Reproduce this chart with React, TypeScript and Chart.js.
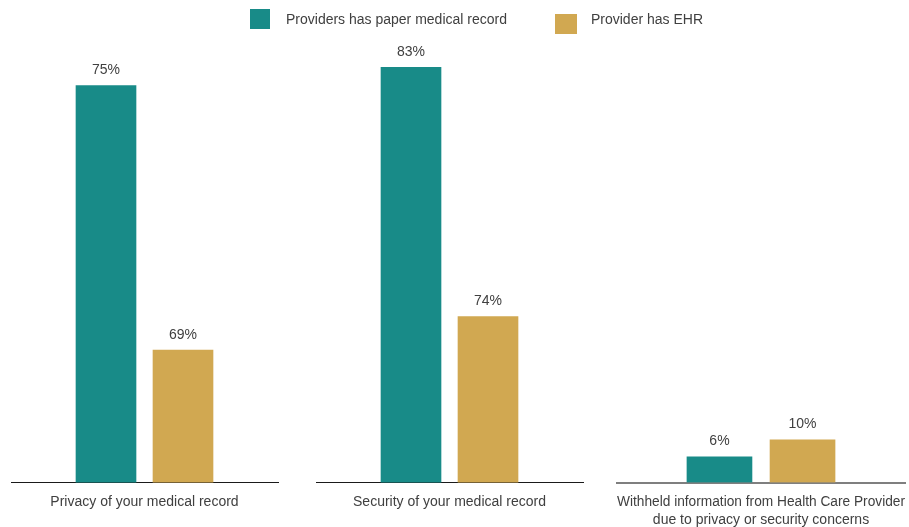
import React, { useEffect, useRef } from 'react';
import { Chart, registerables } from 'chart.js';

Chart.register(...registerables);

// ---- data ----
const categories: (string | string[])[] = [
  'Privacy of your medical record',
  'Security of your medical record',
  ['Withheld information from Health Care Provider', 'due to privacy or security concerns'],
];
const seriesNames = ['Providers has paper medical record', 'Provider has EHR'];
const paperValues = [75, 83, 6];
const ehrValues = [69, 74, 10];
// each panel has its own value axis range
const axisMin = [66, 68, 0];
const axisMax = [76.1, 84.1, 104.5];

const TEAL = '#188b88';
const GOLD = '#d1a851';
const TEXT = '#404040';
const FONT = '"Liberation Sans", Arial, sans-serif';

function makeLegendSwatch(color: string, w: number, h: number, yOff: number): HTMLCanvasElement {
  const c = document.createElement('canvas');
  c.width = 66;
  c.height = 40;
  const g = c.getContext('2d')!;
  g.fillStyle = color;
  g.fillRect(37, yOff, w, h);
  return c;
}

const valueLabels = {
  id: 'valueLabels',
  afterDatasetsDraw(chart: any) {
    const ctx = chart.ctx;
    ctx.save();
    ctx.font = `14px ${FONT}`;
    ctx.fillStyle = TEXT;
    ctx.textAlign = 'center';
    ctx.textBaseline = 'middle';
    chart.data.datasets.forEach((_ds: any, i: number) => {
      const meta = chart.getDatasetMeta(i);
      meta.data.forEach((el: any, j: number) => {
        const v = meta.controller.getParsed(j).y;
        ctx.fillText(`${v}%`, el.x, el.y - 15.5);
      });
    });
    ctx.restore();
  },
};

export default function App() {
  const ref = useRef<HTMLCanvasElement>(null);

  useEffect(() => {
    if (!ref.current) return;
    Chart.defaults.font.family = FONT;
    const swatches = [makeLegendSwatch(TEAL, 20, 20, 9), makeLegendSwatch(GOLD, 22, 20, 14)];
    const colors = [TEAL, GOLD];
    const panelWeights = [267, 267, 288];
    const gapWeights = [38, 34];
    const barWidths = [60, 60, 65];
    // bar slots within a panel (series 0 at slot 1, series 1 at slot 2)
    const slotHalfRange = 1.7338;

    const datasets: any[] = [];
    for (let p = 0; p < 3; p++) {
      [paperValues, ehrValues].forEach((vals, s) => {
        datasets.push({
          label: seriesNames[s],
          data: [{ x: s + 1, y: vals[p] }],
          backgroundColor: colors[s],
          xAxisID: `x${p + 1}`,
          yAxisID: `y${p + 1}`,
          grouped: false,
          barThickness: barWidths[p],
        });
      });
    }

    const noPad = (sc: any) => {
      sc.paddingLeft = 0;
      sc.paddingRight = 0;
    };
    const panelAxis = (p: number) => {
      const twoLine = Array.isArray(categories[p]);
      return {
        type: 'linear',
        position: 'bottom',
        stack: 'panels',
        stackWeight: panelWeights[p],
        offset: false,
        bounds: 'data',
        min: 1.5 - slotHalfRange,
        max: 1.5 + slotHalfRange,
        z: p === 2 ? 1 : 0,
        grid: { display: false, drawTicks: false },
        border: p === 2
          ? { display: true, color: 'rgba(0,0,0,0.5)', width: 2 }
          : { display: true, color: '#1a1a1a', width: 1 },
        ticks: { display: false },
        title: {
          display: true,
          text: categories[p],
          color: TEXT,
          font: { size: 14, lineHeight: 18 / 14 },
          padding: { top: 11, bottom: twoLine ? -2.5 : 15.5 },
        },
        afterFit: noPad,
      };
    };
    const gapAxis = (g: number) => ({
      type: 'linear',
      position: 'bottom',
      stack: 'panels',
      stackWeight: gapWeights[g],
      display: false,
      afterFit: noPad,
    });
    const valueAxis = (p: number) => ({
      type: 'linear',
      position: 'left',
      display: false,
      min: axisMin[p],
      max: axisMax[p],
    });

    const chart = new Chart(ref.current, {
      type: 'bar',
      data: { datasets },
      options: {
        animation: false,
        responsive: false,
        maintainAspectRatio: false,
        layout: { padding: { left: 11, right: 4, top: 2, bottom: 0 } },
        scales: {
          x1: panelAxis(0),
          g1: gapAxis(0),
          x2: panelAxis(1),
          g2: gapAxis(1),
          x3: panelAxis(2),
          y1: valueAxis(0),
          y2: valueAxis(1),
          y3: valueAxis(2),
        } as any,
        plugins: {
          tooltip: { enabled: false },
          legend: {
            display: true,
            position: 'top',
            labels: {
              usePointStyle: true,
              pointStyleWidth: 66,
              padding: 11,
              color: TEXT,
              font: { size: 14 },
              generateLabels: () =>
                [0, 1].map((i) => ({
                  text: seriesNames[i],
                  fillStyle: colors[i],
                  strokeStyle: colors[i],
                  lineWidth: 0,
                  hidden: false,
                  datasetIndex: i,
                  pointStyle: swatches[i],
                  fontColor: TEXT,
                })),
            },
          },
        },
      } as any,
      plugins: [valueLabels],
    });
    return () => chart.destroy();
  }, []);

  return (
    <div style={{ position: 'absolute', left: 0, top: 0, width: 909, height: 527 }}>
      <canvas ref={ref} width={909} height={527} style={{ width: 909, height: 527 }} />
    </div>
  );
}
